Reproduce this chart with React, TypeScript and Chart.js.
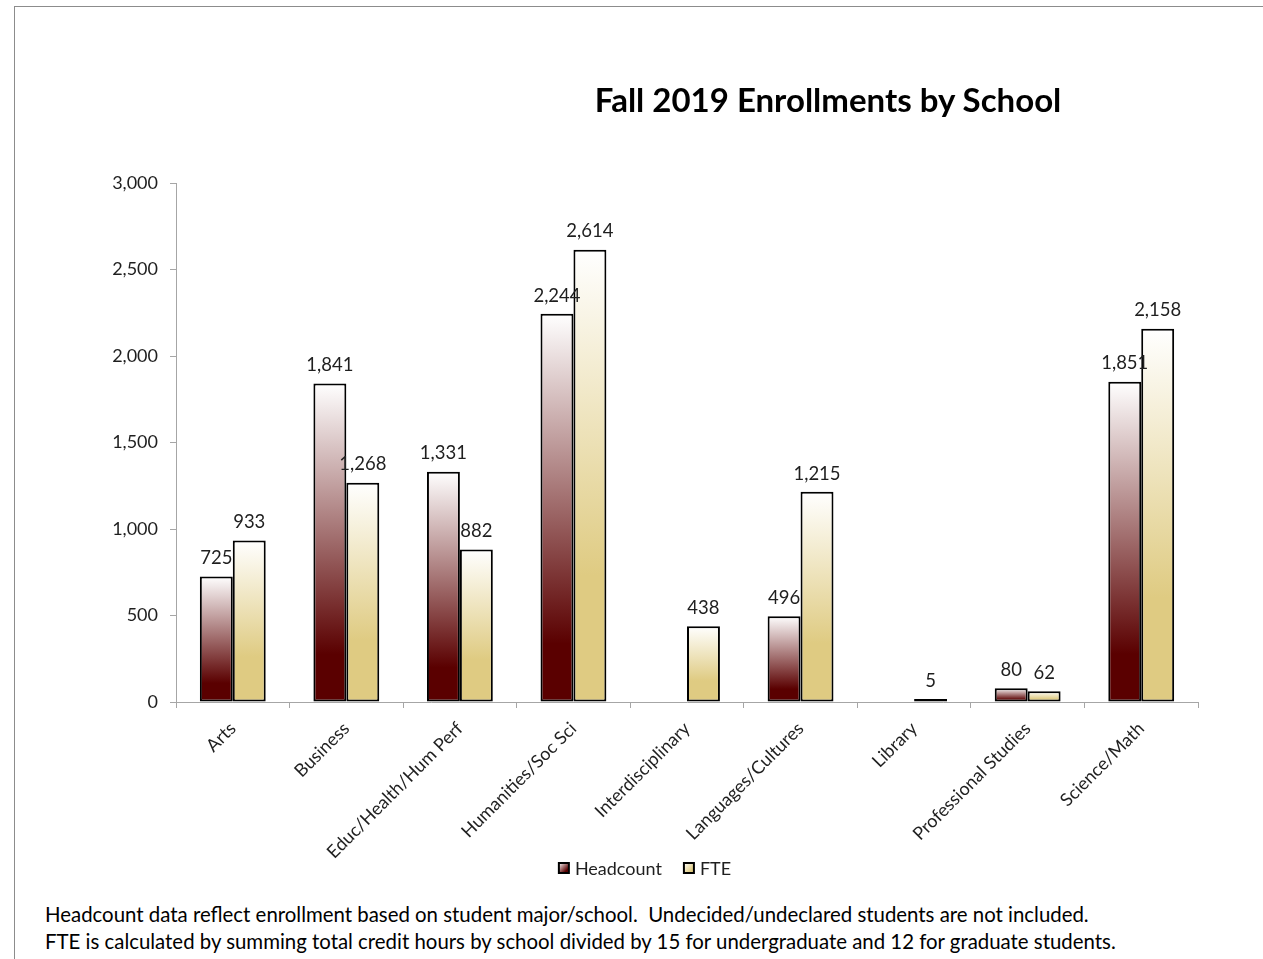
import React, { useEffect, useRef } from 'react';
import { Chart, registerables } from 'chart.js';

Chart.register(...registerables);

const categories = [
  'Arts',
  'Business',
  'Educ/Health/Hum Perf',
  'Humanities/Soc Sci',
  'Interdisciplinary',
  'Languages/Cultures',
  'Library',
  'Professional Studies',
  'Science/Math',
];
const headcount: (number | null)[] = [725, 1841, 1331, 2244, null, 496, null, 80, 1851];
const fte: (number | null)[] = [933, 1268, 882, 2614, 438, 1215, 5, 62, 2158];
const seriesNames = ['Headcount', 'FTE'];
const yMin = 0;
const yMax = 3000;
const yStep = 500;

const titleText = 'Fall 2019 Enrollments by School';
const noteLines = [
  'Headcount data reflect enrollment based on student major/school.  Undecided/undeclared students are not included.',
  'FTE is calculated by summing total credit hours by school divided by 15 for undergraduate and 12 for graduate students.',
];

const FONT = 'Lato, "Open Sans", sans-serif';
const TEXT = '#1f1f1f';
const HC_DARK = '#5a0000';
const FTE_DARK = '#dfcb82';
const DARKS = [HC_DARK, FTE_DARK];

function gradientFill(dark: string, stop: number) {
  return (ctx: any) => {
    const chart = ctx.chart;
    const y = chart.scales && chart.scales.y;
    if (!y || ctx.type !== 'data' || ctx.raw == null) return dark;
    const top = y.getPixelForValue(ctx.raw);
    const base = y.getPixelForValue(0);
    if (!isFinite(top) || !isFinite(base) || base - top < 1) return dark;
    const g = chart.ctx.createLinearGradient(0, top, 0, base);
    g.addColorStop(0, '#ffffff');
    g.addColorStop(stop, dark);
    g.addColorStop(1, dark);
    return g;
  };
}

const valueLabels = {
  id: 'valueLabels',
  afterDatasetsDraw(chart: any) {
    const c = chart.ctx;
    c.save();
    c.font = `18.5px ${FONT}`;
    c.fillStyle = TEXT;
    c.textAlign = 'center';
    c.textBaseline = 'bottom';
    chart.data.datasets.forEach((ds: any, di: number) => {
      const meta = chart.getDatasetMeta(di);
      meta.data.forEach((el: any, i: number) => {
        const v = ds.data[i];
        if (v == null) return;
        c.fillText(v.toLocaleString('en-US'), el.x, el.y - 9);
      });
    });
    c.restore();
  },
};

// legend drawn on the canvas, below the axis labels
const LEGEND_CX = 631;
const LEGEND_CY = 862;
const customLegend = {
  id: 'customLegend',
  afterDraw(chart: any) {
    const c = chart.ctx;
    c.save();
    c.font = `18px ${FONT}`;
    c.textBaseline = 'middle';
    c.textAlign = 'left';
    const box = 10;
    const gap = 6;
    const between = 22;
    const names = chart.data.datasets.map((d: any) => d.label);
    const widths = names.map((n: string) => box + gap + c.measureText(n).width);
    const total = widths.reduce((a: number, b: number) => a + b, 0) + between * (names.length - 1);
    let x = LEGEND_CX - total / 2;
    names.forEach((n: string, i: number) => {
      const top = LEGEND_CY - box / 2;
      const g = c.createLinearGradient(x, top, x + box, top + box);
      g.addColorStop(0, '#ffffff');
      g.addColorStop(0.75, DARKS[i]);
      g.addColorStop(1, DARKS[i]);
      c.fillStyle = g;
      c.fillRect(x, top, box, box);
      c.lineWidth = 2;
      c.strokeStyle = '#000';
      c.strokeRect(x, top, box, box);
      c.fillStyle = TEXT;
      c.fillText(n, x + box + gap, LEGEND_CY + 1);
      x += widths[i] + between;
    });
    c.restore();
  },
};

const CANVAS_W = 1327;
const CANVAS_H = 887;

export default function App() {
  const ref = useRef<HTMLCanvasElement>(null);
  useEffect(() => {
    const canvas = ref.current;
    if (!canvas) return;
    const chart = new Chart(canvas, {
      type: 'bar',
      data: {
        labels: categories,
        datasets: [
          {
            label: seriesNames[0],
            data: headcount,
            backgroundColor: gradientFill(HC_DARK, 0.85),
            borderColor: '#000000',
            borderWidth: 2,
            borderSkipped: false,
          },
          {
            label: seriesNames[1],
            data: fte,
            backgroundColor: gradientFill(FTE_DARK, 0.72),
            borderColor: '#000000',
            borderWidth: 2,
            borderSkipped: false,
            minBarLength: 3,
          },
        ],
      },
      options: {
        responsive: false,
        animation: false,
        layout: { padding: { left: 0, right: 143, top: 177, bottom: 21 } },
        datasets: { bar: { categoryPercentage: 0.58, barPercentage: 1.0 } },
        plugins: {
          tooltip: { enabled: false },
          title: { display: false },
          legend: { display: false },
        },
        scales: {
          x: {
            grid: { display: true, drawOnChartArea: false, drawTicks: true, tickLength: 6, color: '#a6a6a6', offset: true },
            border: { display: true, color: '#a6a6a6', width: 1 },
            ticks: {
              font: { family: FONT, size: 18 },
              color: TEXT,
              maxRotation: 45,
              minRotation: 45,
              autoSkip: false,
              padding: 10,
            },
            afterFit: (s: any) => {
              s.height = 170;
            },
          },
          y: {
            min: yMin,
            max: yMax,
            grid: { display: true, drawOnChartArea: false, drawTicks: true, tickLength: 6, color: '#a6a6a6' },
            border: { display: true, color: '#a6a6a6', width: 1 },
            ticks: {
              stepSize: yStep,
              font: { family: FONT, size: 18 },
              color: TEXT,
              padding: 12,
              callback: (v: any) => Number(v).toLocaleString('en-US'),
            },
            afterFit: (s: any) => {
              s.width = 162;
            },
          },
        },
      },
      plugins: [valueLabels, customLegend],
    });
    return () => chart.destroy();
  }, []);

  return (
    <div style={{ position: 'absolute', left: 0, top: 0, width: 1263, height: 959, overflow: 'hidden', background: '#fff' }}>
      <div
        style={{
          position: 'absolute',
          left: 14,
          top: 6,
          width: 1249,
          height: 953,
          boxSizing: 'border-box',
          borderLeft: '1px solid #8c8c8c',
          borderTop: '1px solid #8c8c8c',
        }}
      />
      <canvas ref={ref} width={CANVAS_W} height={CANVAS_H} style={{ position: 'absolute', left: 14, top: 6 }} />
      <div
        style={{
          position: 'absolute',
          left: 478,
          width: 700,
          top: 78,
          textAlign: 'center',
          fontFamily: FONT,
          fontWeight: 'bold',
          fontSize: 33,
          lineHeight: '42px',
          color: '#000',
          whiteSpace: 'pre',
        }}
      >
        {titleText}
      </div>
      <div
        style={{
          position: 'absolute',
          left: 45,
          top: 901,
          fontFamily: FONT,
          fontSize: 20.4,
          lineHeight: '27px',
          color: '#000',
          whiteSpace: 'pre',
        }}
      >
        {noteLines.map((l, i) => (
          <div key={i}>{l}</div>
        ))}
      </div>
    </div>
  );
}
